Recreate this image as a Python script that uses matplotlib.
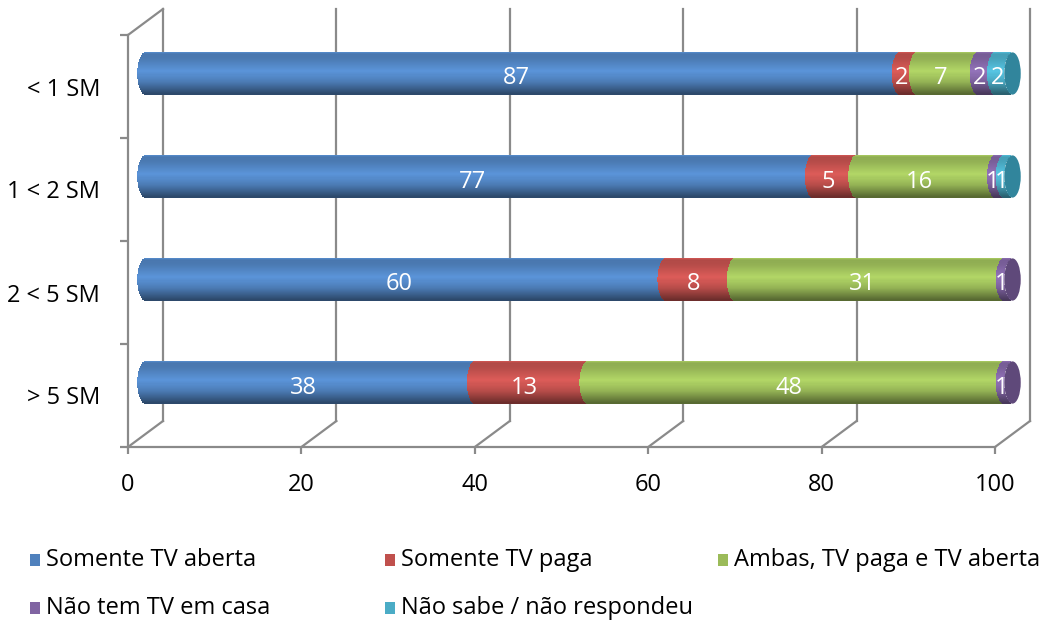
import numpy as np
import matplotlib
matplotlib.use("Agg")
import matplotlib.pyplot as plt
from matplotlib.patches import Ellipse, Rectangle
from matplotlib.colors import to_rgb

plt.rcParams['font.family'] = ['Open Sans', 'DejaVu Sans']

categories = ["< 1 SM", "1 < 2 SM", "2 < 5 SM", "> 5 SM"]
series_names = ["Somente TV aberta", "Somente TV paga", "Ambas, TV paga e TV aberta",
                "Não tem TV em casa", "Não sabe / não respondeu"]
somente_aberta = [87, 77, 60, 38]
somente_paga = [2, 5, 8, 13]
ambas = [7, 16, 31, 48]
nao_tem = [2, 1, 1, 1]
nao_sabe = [2, 1, 0, 0]
series_values = [somente_aberta, somente_paga, ambas, nao_tem, nao_sabe]
x_ticks = [0, 20, 40, 60, 80, 100]

base_colors = ["#4F81BD", "#C0504D", "#9BBB59", "#8064A2", "#4BACC6"]
cap_colors = ["#2c4d75", "#8c3836", "#71893f", "#5f497a", "#31859C"]

W, H = 1061, 624
fig = plt.figure(figsize=(W / 100, H / 100), dpi=100)
ax_l, ax_r, ax_t, ax_b = 128, 995, 35, 447
ax = fig.add_axes([ax_l / W, (H - ax_b) / H, (ax_r - ax_l) / W, (ax_b - ax_t) / H])
ax.set_xlim(0, 100)
ax.set_ylim(len(categories) - 0.5, -0.5)

px_x = (ax_r - ax_l) / 100.0
px_y = (ax_b - ax_t) / len(categories)
dx = 35 / px_x
dy = 26 / px_y
grid_c = "#8a8a8a"
lw = 1.6
FS = 17

# back wall gridlines and floor diagonals
y0, y1 = -0.5, len(categories) - 0.5
for x in x_ticks:
    ax.plot([x + dx, x + dx], [y0 - dy, y1 - dy], color=grid_c, lw=lw, clip_on=False, zorder=1)
    ax.plot([x, x + dx], [y1, y1 - dy], color=grid_c, lw=lw, clip_on=False, zorder=1)
ax.plot([0, dx], [y0, y0 - dy], color=grid_c, lw=lw, clip_on=False, zorder=1)

# cylinders
h = 0.41
a = 0.95
N = 40
bx, by = dx / 2, dy / 2
label_dy = 5 / px_y


def shade(col, t):
    f = np.interp(t, [0, 0.05, 0.15, 0.45, 0.7, 1], [1.1, 0.92, 0.95, 1.15, 0.95, 0.55])
    return tuple(np.clip(np.array(to_rgb(col)) * f, 0, 1))


for i, cat in enumerate(categories):
    vals = [s[i] for s in series_values]
    cum = 0
    last_k = max(k for k, v in enumerate(vals) if v > 0)
    for k, v in enumerate(vals):
        if v <= 0:
            continue
        for j in range(N):
            u = (j + 0.5) / N - 0.5
            s = a * np.sqrt(max(0.0, 1 - (2 * u) ** 2))
            ax.barh(i + u * h - by, v, left=cum + bx - s, height=h / N * 1.15,
                    color=shade(base_colors[k], u + 0.5), lw=0, clip_on=False, zorder=3)
        ax.text(cum + v / 2 + bx - a * 0.8, i - by + label_dy, str(v), color="white",
                fontsize=FS, ha="center", va="center", zorder=6, clip_on=False)
        cum += v
    ax.add_patch(Ellipse((cum + bx, i - by), 2 * a, h, facecolor=cap_colors[last_k],
                         edgecolor="none", clip_on=False, zorder=4))

# axes styling
for sp in ["top", "right"]:
    ax.spines[sp].set_visible(False)
for sp in ["left", "bottom"]:
    ax.spines[sp].set_color(grid_c)
    ax.spines[sp].set_linewidth(lw)
ax.set_xticks(x_ticks)
ax.set_xticklabels([str(x) for x in x_ticks])
ax.tick_params(axis="x", length=5, width=lw, color=grid_c, pad=14, labelsize=FS)
ax.set_yticks(range(len(categories)))
ax.set_yticklabels(categories)
ax.set_yticks(np.arange(-0.5, len(categories), 1.0), minor=True)
ax.tick_params(axis="y", which="major", length=0, pad=20, labelsize=FS)
ax.tick_params(axis="y", which="minor", length=6, width=lw, color=grid_c)
ax.set_facecolor("none")

# legend (manual, row-major)
leg_pos = [(30, 560), (385, 560), (718, 560), (30, 608), (385, 608)]
for k, name in enumerate(series_names):
    lx, ly = leg_pos[k]
    fig.add_artist(Rectangle((lx / W, (H - ly - 6) / H), 10 / W, 12 / H,
                             facecolor=base_colors[k], edgecolor="none",
                             transform=fig.transFigure))
    fig.text((lx + 16) / W, (H - ly) / H, name, fontsize=FS, va="center", ha="left")

fig.savefig("out.png", dpi=100)
